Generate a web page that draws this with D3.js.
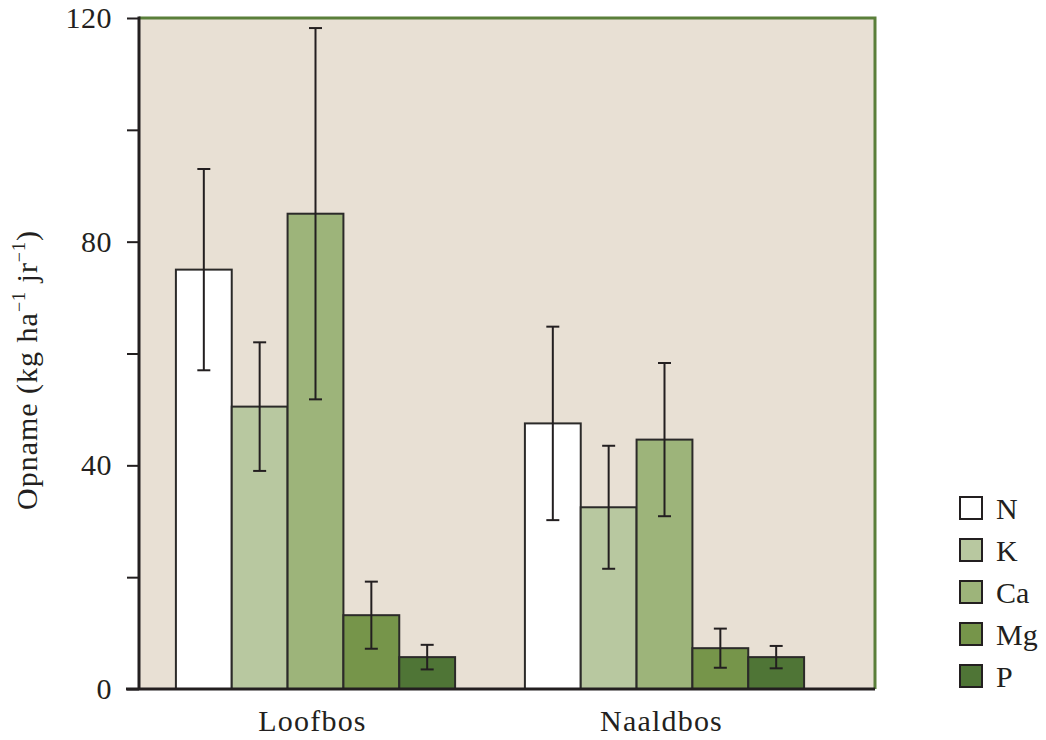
<!DOCTYPE html>
<html>
<head>
<meta charset="utf-8">
<script src="https://cdn.jsdelivr.net/npm/d3@7"></script>
<style>
  html, body { margin: 0; padding: 0; background: #fff; }
  svg { display: block; }
  text { font-family: "Liberation Serif", "DejaVu Serif", serif; fill: #231f20; }
</style>
</head>
<body>
<svg id="chart" width="1046" height="740"></svg>
<script>
// Nutrient uptake per forest type, with error bars
const groups = ["Loofbos", "Naaldbos"];
const nutrients = ["N", "K", "Ca", "Mg", "P"];
const loofbosValues = [75, 50.5, 85, 13.2, 5.7];
const loofbosErrors = [18, 11.5, 33.2, 6, 2.2];
const naaldbosValues = [47.5, 32.5, 44.6, 7.3, 5.7];
const naaldbosErrors = [17.3, 11, 13.7, 3.5, 2];
const yTicks = [0, 20, 40, 60, 80, 100, 120];
const yTickLabels = ["0", "", "40", "", "80", "", "120"];
const colors = ["#ffffff", "#b8c8a0", "#9db47a", "#76954a", "#4f7536"];

const values = [loofbosValues, naaldbosValues];
const errors = [loofbosErrors, naaldbosErrors];
const rows = groups.map((g, gi) => nutrients.map((n, ni) => ({
  group: g, nutrient: n, value: values[gi][ni], err: errors[gi][ni], color: colors[ni]
})));

const svg = d3.select("#chart");
const plot = { left: 139, right: 875, top: 18, bottom: 689 };
const FONT = 30;

const x = d3.scaleBand().domain(groups).range([141, 839]).paddingInner(0.2).paddingOuter(0.1);
const xs = d3.scaleBand().domain(nutrients).range([0, x.bandwidth()]).padding(0);
const y = d3.scaleLinear().domain([0, 120]).range([plot.bottom, plot.top]);

// plot background
svg.append("rect")
  .attr("x", plot.left).attr("y", plot.top)
  .attr("width", plot.right - plot.left).attr("height", plot.bottom - plot.top)
  .attr("fill", "#e8e0d4");

// green frame on top and right
svg.append("path")
  .attr("d", `M${plot.left},${plot.top} H${plot.right} V${plot.bottom}`)
  .attr("fill", "none").attr("stroke", "#5a7f3a").attr("stroke-width", 3);

// bars
const g = svg.append("g");
rows.forEach(r => {
  const gg = g.append("g").attr("transform", `translate(${x(r[0].group)},0)`);
  gg.selectAll("rect").data(r).join("rect")
    .attr("x", d => xs(d.nutrient))
    .attr("y", d => y(d.value))
    .attr("width", xs.bandwidth())
    .attr("height", d => y(0) - y(d.value))
    .attr("fill", d => d.color)
    .attr("stroke", "#2b2a29").attr("stroke-width", 2);

  // error bars
  const eb = gg.selectAll("g.err").data(r).join("g").attr("class", "err")
    .attr("transform", d => `translate(${xs(d.nutrient) + xs.bandwidth() / 2},0)`);
  eb.append("line")
    .attr("y1", d => y(d.value + d.err)).attr("y2", d => y(d.value - d.err))
    .attr("stroke", "#231f20").attr("stroke-width", 2);
  eb.append("line")
    .attr("x1", -6.5).attr("x2", 6.5)
    .attr("y1", d => y(d.value + d.err)).attr("y2", d => y(d.value + d.err))
    .attr("stroke", "#231f20").attr("stroke-width", 2);
  eb.append("line")
    .attr("x1", -6.5).attr("x2", 6.5)
    .attr("y1", d => y(d.value - d.err)).attr("y2", d => y(d.value - d.err))
    .attr("stroke", "#231f20").attr("stroke-width", 2);
});

// y axis
const yAxis = d3.axisLeft(y).tickValues(yTicks)
  .tickFormat((d, i) => yTickLabels[i]).tickSize(12).tickPadding(15);
const ya = svg.append("g").attr("transform", `translate(${plot.left},0)`).call(yAxis);
ya.select(".domain").attr("stroke", "#231f20").attr("stroke-width", 3)
  .attr("d", `M0,${plot.top - 1.5}V${plot.bottom}`);
ya.selectAll(".tick line").attr("stroke", "#231f20").attr("stroke-width", 2);
ya.selectAll(".tick text").attr("font-size", FONT).attr("font-family", "Liberation Serif, serif")
  .attr("fill", "#231f20").attr("letter-spacing", 0.5);

// x axis
const xAxis = d3.axisBottom(x).tickSize(0).tickPadding(21);
const xa = svg.append("g").attr("transform", `translate(0,${plot.bottom})`).call(xAxis);
xa.select(".domain").attr("stroke", "#231f20").attr("stroke-width", 3)
  .attr("d", `M${plot.left - 13},0H${plot.right}`);
xa.selectAll(".tick text").attr("font-size", FONT).attr("font-family", "Liberation Serif, serif")
  .attr("fill", "#231f20").attr("dy", "0.71em").attr("dx", -3).attr("letter-spacing", 1.2);

// y axis title
const yt = svg.append("text")
  .attr("transform", "translate(37,370) rotate(-90)")
  .attr("text-anchor", "middle").attr("font-size", FONT).attr("letter-spacing", 1);
yt.append("tspan").text("Opname (kg ha");
yt.append("tspan").text("\u22121").attr("font-size", 18).attr("dy", -12);
yt.append("tspan").text(" jr").attr("dy", 12);
yt.append("tspan").text("\u22121").attr("font-size", 18).attr("dy", -12);
yt.append("tspan").text(")").attr("dy", 12);

// legend
const leg = svg.append("g").attr("transform", "translate(960,497)");
const li = leg.selectAll("g").data(nutrients).join("g")
  .attr("transform", (d, i) => `translate(0,${i * 42})`);
li.append("rect").attr("width", 22).attr("height", 22)
  .attr("fill", (d, i) => colors[i]).attr("stroke", "#231f20").attr("stroke-width", 2);
li.append("text").attr("x", 36).attr("y", 11).attr("dy", "0.36em")
  .attr("font-size", FONT).text(d => d);
</script>
</body>
</html>
